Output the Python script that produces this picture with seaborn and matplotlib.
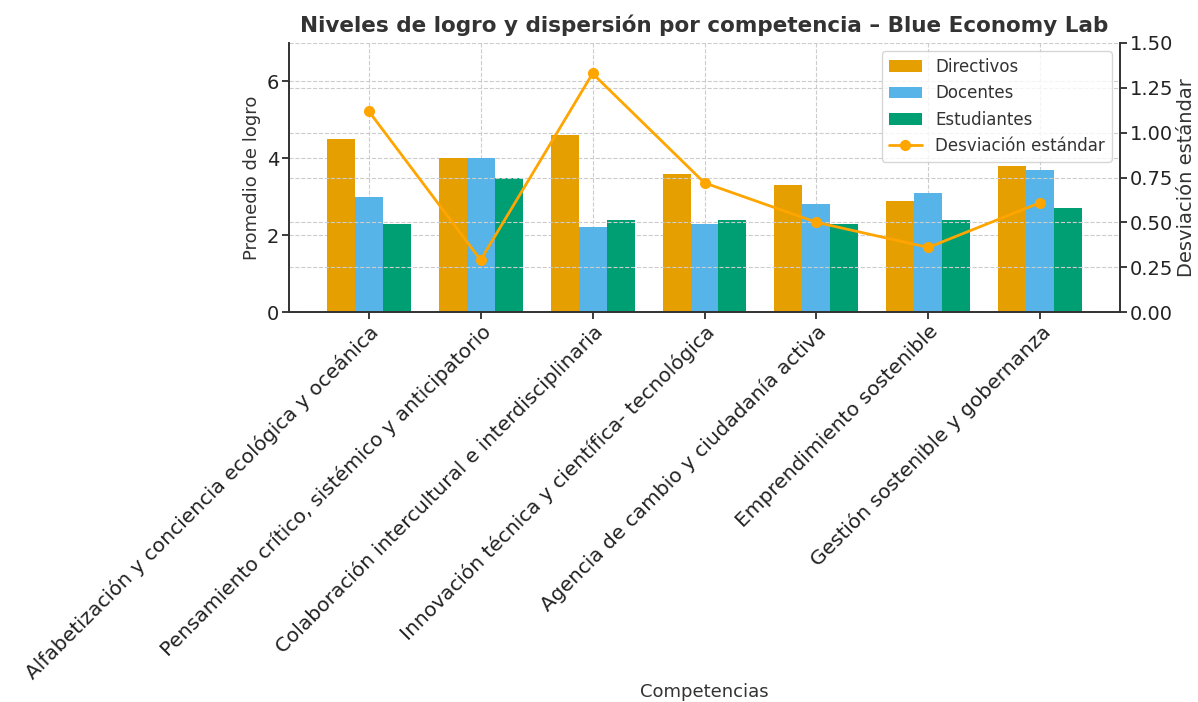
import pandas as pd
import numpy as np
import matplotlib.pyplot as plt
import seaborn as sns

# data
competencias = [
    "Alfabetización y conciencia ecológica y oceánica",
    "Pensamiento crítico, sistémico y anticipatorio",
    "Colaboración intercultural e interdisciplinaria",
    "Innovación técnica y científica- tecnológica",
    "Agencia de cambio y ciudadanía activa",
    "Emprendimiento sostenible",
    "Gestión sostenible y gobernanza",
]
directivos = [4.5, 4.0, 4.6, 3.6, 3.3, 2.9, 3.8]
docentes = [3.0, 4.0, 2.2, 2.3, 2.8, 3.1, 3.7]
estudiantes = [2.3, 3.5, 2.4, 2.4, 2.3, 2.4, 2.7]
desviacion = [1.12, 0.29, 1.33, 0.72, 0.50, 0.36, 0.61]

grupos = ["Directivos", "Docentes", "Estudiantes"]
colores = ["#E69F00", "#56B4E9", "#009E73"]

sns.set_theme(style="ticks", rc={
    "axes.grid": True,
    "grid.linestyle": "--",
    "grid.color": "#cccccc",
    "grid.linewidth": 0.8,
    "axes.spines.top": False,
    "axes.edgecolor": "#333333",
    "text.color": "#333333",
    "axes.labelcolor": "#333333",
    "xtick.color": "#222222",
    "ytick.color": "#222222",
    "xtick.major.size": 5,
    "ytick.major.size": 5,
})
plt.rcParams['font.family'] = ['DejaVu Sans']

#long format for seaborn
df = pd.DataFrame({
    "Competencia": competencias * 3,
    "Grupo": np.repeat(grupos, len(competencias)),
    "Valor": directivos + docentes + estudiantes,
})

fig = plt.figure(figsize=(11.98, 7.02), dpi=100)
ax = fig.add_axes([289/1198, 1 - 312/702, (1120 - 289)/1198, (312 - 43)/702])

sns.barplot(data=df, x="Competencia", y="Valor", hue="Grupo", palette=colores,
            saturation=1, width=0.75, gap=0, linewidth=0, ax=ax, legend=True)
ax.set_ylim(0, 7)
ax.set_yticks([0, 2, 4, 6])
ax.set_ylabel("Promedio de logro", fontsize=13)
ax.set_xlabel("Competencias", fontsize=13, va='center')
ax.xaxis.set_label_coords(0.5, (312 - 692) / 269)
ax.tick_params(axis='x', labelsize=14.5, pad=2)
ax.tick_params(axis='y', labelsize=14, pad=2)
ax.grid(True, axis='x')
ax.set_axisbelow(True)
plt.setp(ax.get_xticklabels(), rotation=45, ha='right', rotation_mode='anchor')
ax.set_title("Niveles de logro y dispersión por competencia – Blue Economy Lab",
             fontsize=15.5, fontweight='bold', pad=8)

#desviacion on second axis
ax2 = ax.twinx()
sns.lineplot(x=np.arange(len(competencias)), y=desviacion, color="#FFA500",
             marker="o", markersize=8, markeredgewidth=0, linewidth=2,
             label="Desviación estándar", ax=ax2, legend=False)
ax2.set_ylim(0, 1.5)
ax2.set_yticks([0, 0.25, 0.5, 0.75, 1.0, 1.25, 1.5])
ax2.set_yticklabels([f"{v:.2f}" for v in ax2.get_yticks()])
ax2.set_ylabel("Desviación estándar", fontsize=14, labelpad=3)
ax2.tick_params(axis='y', labelsize=14, pad=2)
ax2.spines['top'].set_visible(False)
ax2.grid(True, linestyle="--", color="#cccccc", linewidth=0.8)
ax2.grid(False, axis='x')

h1, l1 = ax.get_legend_handles_labels()
h2, l2 = ax2.get_legend_handles_labels()
ax.get_legend().remove()
ax2.legend(h1 + h2, l1 + l2, loc="upper right", fontsize=12, frameon=True)

fig.savefig("out.png", dpi=100)
